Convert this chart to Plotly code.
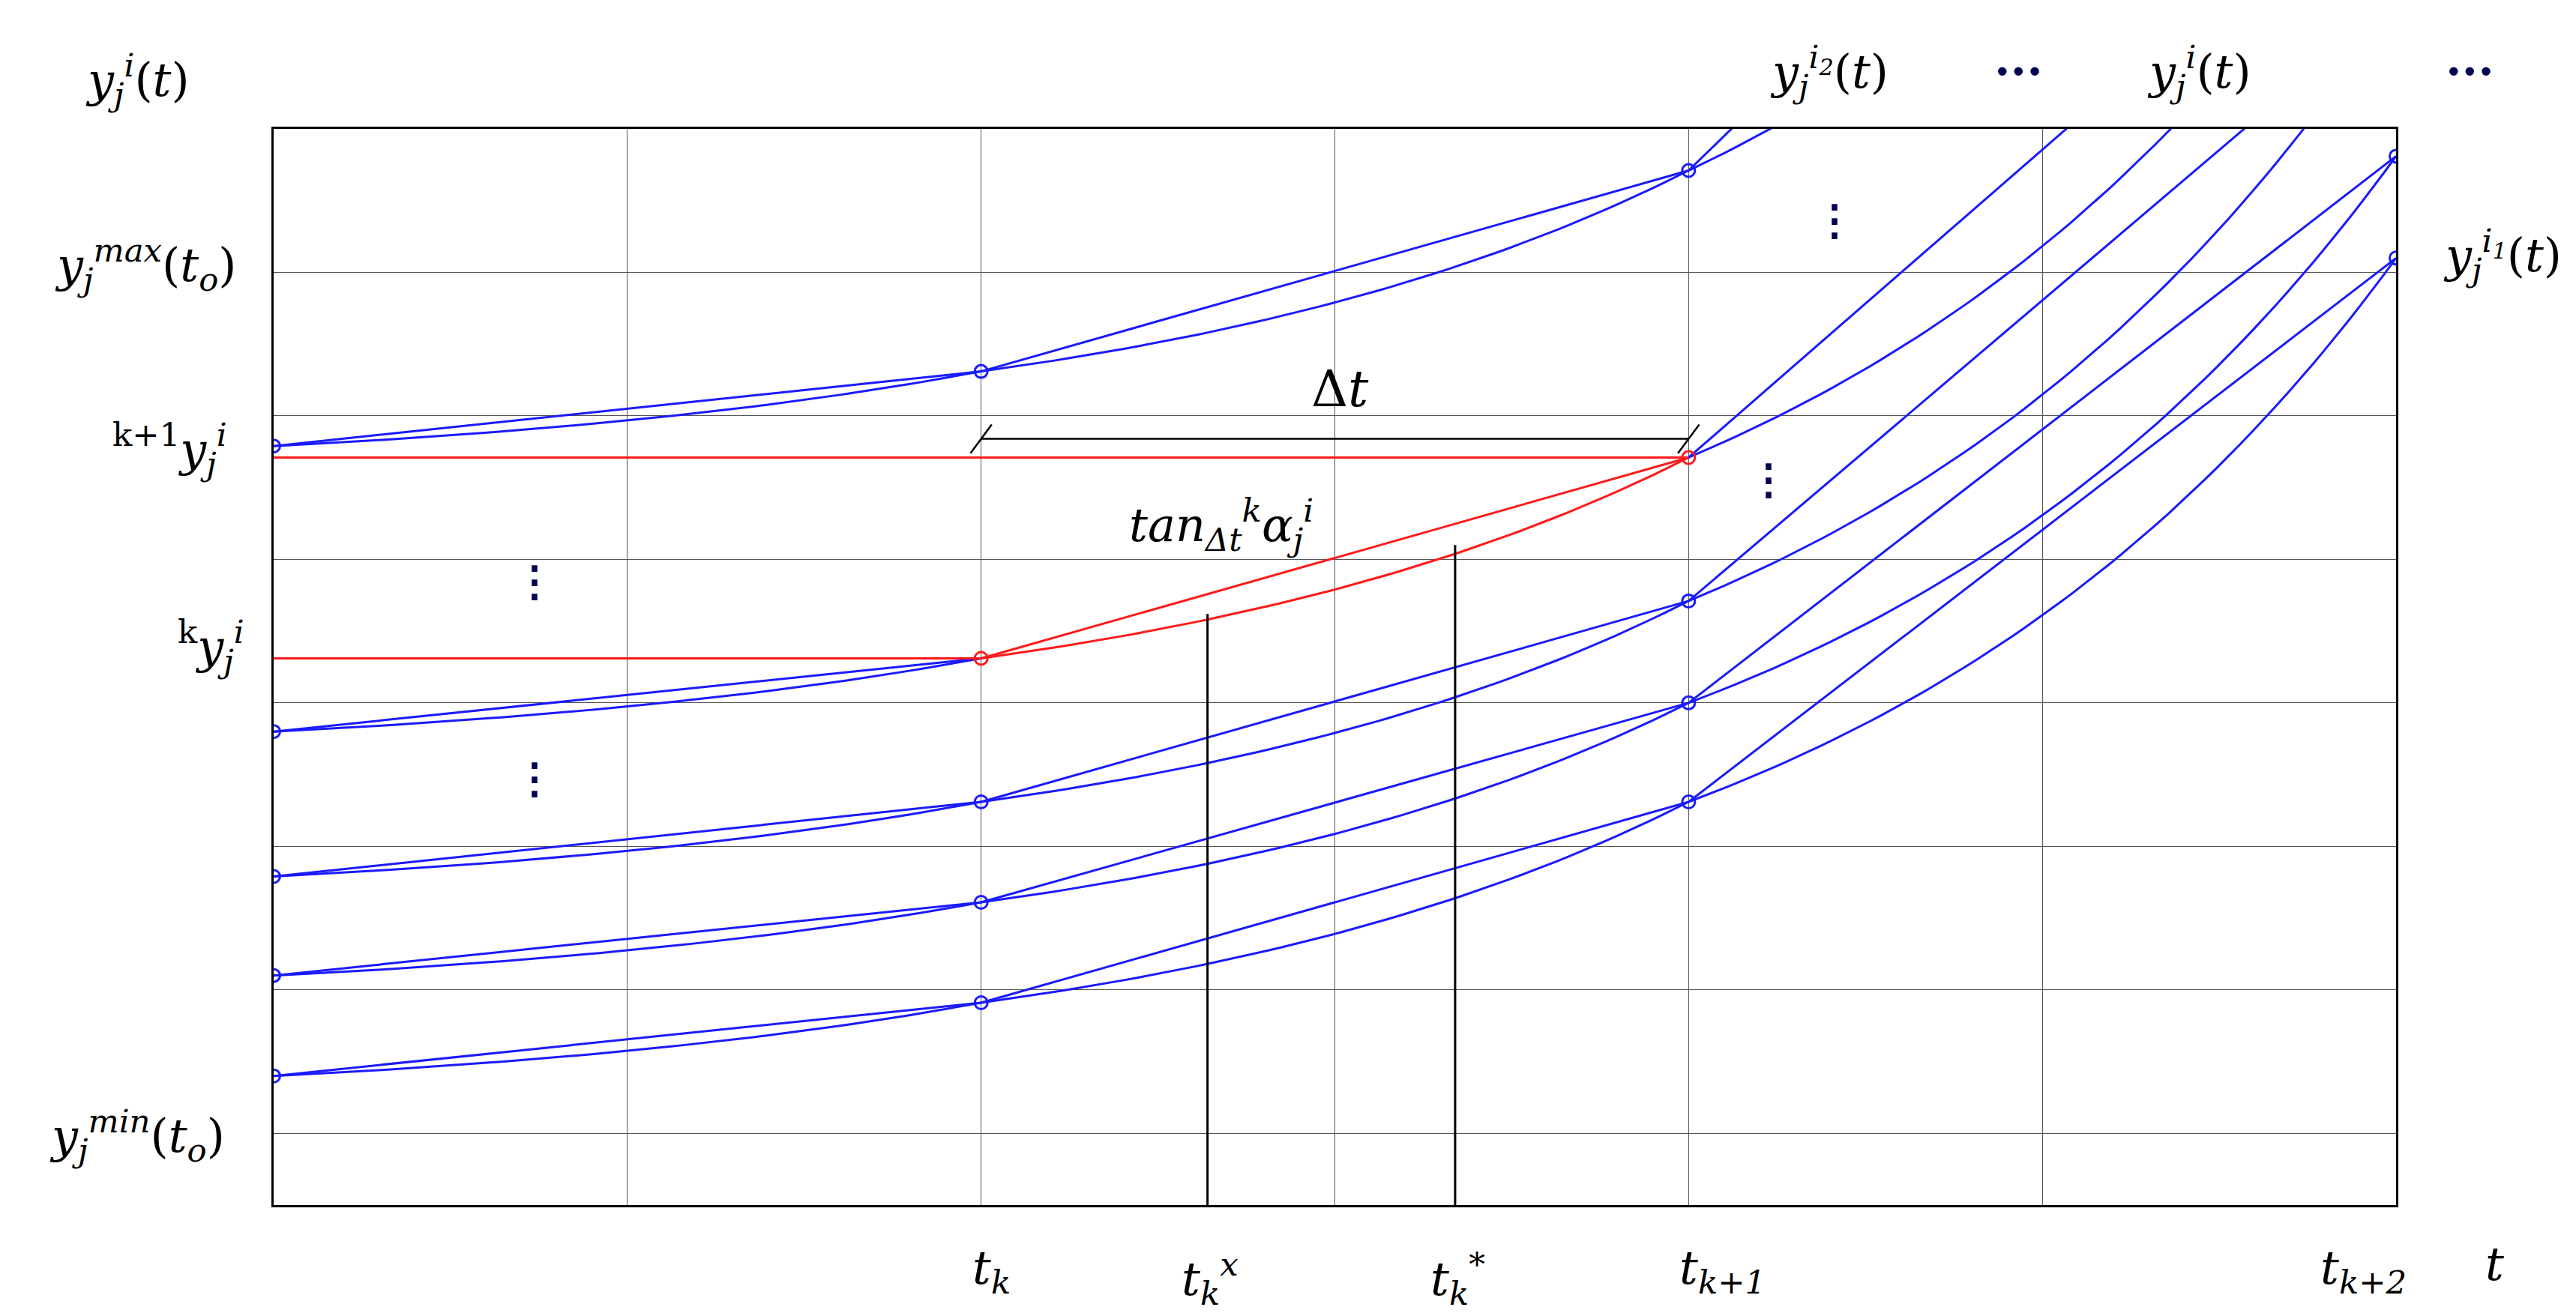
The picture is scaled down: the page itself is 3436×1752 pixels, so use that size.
import numpy as np
import plotly.graph_objects as go

t_nodes = [0, 2, 4, 6]
# node values per trajectory at t=0,2,4,(6)
traj = [
    [1.4, 1.91, 3.31, 7.1],
    [2.1, 2.61, 4.0, 7.81],
    [2.79, 3.31, 4.71, 8.9],
    [3.8, 4.31, 5.71, 10.0],
    [5.79, 6.31, 7.71, 12.5],
]
red_idx = 3
tkx, tks = 2.64, 3.34
tkx_top, tks_top = 4.62, 5.1
hline_upper, hline_lower = 5.71, 4.31
dt_level = 5.84

PX0, PX1, PY0, PY1 = 163, 1455, 75, 730
def px(x): return (x - PX0) / (PX1 - PX0)
def py(y): return (PY1 - y) / (PY1 - PY0)

fig = go.Figure()
BLUE, RED = "#1a1aff", "#ff1a1a"
def curve(x0, y0, x1, y1, a=1.3):
    s = np.linspace(0, 1, 60)
    return x0 + (x1 - x0) * s, y0 + (y1 - y0) * (np.exp(a * s) - 1) / (np.exp(a) - 1)

for n, tr in enumerate(traj):
    for k in range(3):
        col = RED if (n == red_idx and k == 1) else BLUE
        x0, x1 = t_nodes[k], t_nodes[k + 1]
        y0, y1 = tr[k], tr[k + 1]
        fig.add_trace(go.Scatter(x=[x0, x1], y=[y0, y1], mode="lines", line=dict(color=col, width=3), showlegend=False))
        cx, cy = curve(x0, y0, x1, y1)
        fig.add_trace(go.Scatter(x=cx, y=cy, mode="lines", line=dict(color=col, width=3), showlegend=False))
    pts_x = t_nodes[:3] + ([6] if tr[3] < 8 else [])
    pts_y = tr[:3] + ([tr[3]] if tr[3] < 8 else [])
    cols = [RED if (n == red_idx and i in (1, 2)) else BLUE for i in range(len(pts_x))]
    fig.add_trace(go.Scatter(x=pts_x, y=pts_y, mode="markers", marker=dict(symbol="circle-open", size=17, color=cols, line=dict(width=3)), showlegend=False))

# red horizontal lines
fig.add_trace(go.Scatter(x=[0, 4], y=[hline_upper]*2, mode="lines", line=dict(color=RED, width=3), showlegend=False))
fig.add_trace(go.Scatter(x=[0, 2], y=[hline_lower]*2, mode="lines", line=dict(color=RED, width=3), showlegend=False))
# black lines
fig.add_trace(go.Scatter(x=[2, 4], y=[dt_level]*2, mode="lines", line=dict(color="black", width=2.5), showlegend=False))
fig.add_trace(go.Scatter(x=[tkx, tkx], y=[0.5, tkx_top], mode="lines", line=dict(color="black", width=3), showlegend=False))
fig.add_trace(go.Scatter(x=[tks, tks], y=[0.5, tks_top], mode="lines", line=dict(color="black", width=3), showlegend=False))
for xx in [2, 4]:
    fig.add_trace(go.Scatter(x=[xx-0.03, xx+0.03], y=[dt_level-0.1, dt_level+0.1], mode="lines", line=dict(color="black", width=2.5), showlegend=False))

F = "DejaVu Serif"
def ann(text, x, y, size=62, color="black"):
    fig.add_annotation(text=text, x=px(x), y=py(y), xref="paper", yref="paper", showarrow=False,
                       font=dict(family=F, size=size, color=color), xanchor="center", yanchor="middle")
ann("<i>y<sub>j</sub><sup>i</sup></i>(<i>t</i>)", 80, 45)
ann("<i>y<sub>j</sub><sup>max</sup></i>(<i>t<sub>o</sub></i>)", 85, 158)
ann("<sup>k+1</sup><i>y<sub>j</sub><sup>i</sup></i>", 100, 270)
ann("<sup>k</sup><i>y<sub>j</sub><sup>i</sup></i>", 125, 390)
ann("<i>y<sub>j</sub><sup>min</sup></i>(<i>t<sub>o</sub></i>)", 80, 688)
ann("<i>t<sub>k</sub></i>", 600, 770)
ann("<i>t<sub>k</sub><sup>x</sup></i>", 733, 775)
ann("<i>t<sub>k</sub><sup>*</sup></i>", 884, 775)
ann("<i>t<sub>k+1</sub></i>", 1045, 770)
ann("<i>t<sub>k+2</sub></i>", 1435, 770)
ann("<i>t</i>", 1515, 766)
ann("<i>y<sub>j</sub><sup>i<sub>2</sub></sup></i>(<i>t</i>)", 1110, 40)
ann("<b>···</b>", 1225, 40, color="#000050")
ann("<i>y<sub>j</sub><sup>i</sup></i>(<i>t</i>)", 1335, 40)
ann("<b>···</b>", 1500, 40, color="#000050")
ann("<i>y<sub>j</sub><sup>i<sub>1</sub></sup></i>(<i>t</i>)", 1520, 152)
ann("Δ<i>t</i>", 812, 233, size=68)
ann("<i>tan<sub>Δt</sub><sup>k</sup>α<sub>j</sub><sup>i</sup></i>", 740, 316)
for (x, y) in [(322, 350), (322, 470), (1113, 130), (1073, 288)]:
    ann("<b>⋮</b>", x, y, size=56, color="#000050")

fig.update_xaxes(range=[0, 6], tickvals=[1, 2, 3, 4, 5], showticklabels=False, showgrid=True, gridcolor="#555",
                 gridwidth=1, zeroline=False, showline=True, linecolor="black", linewidth=2.5, mirror=True)
fig.update_yaxes(range=[0.5, 8], tickvals=[1, 2, 3, 4, 5, 6, 7], showticklabels=False, showgrid=True, gridcolor="#555",
                 gridwidth=1, zeroline=False, showline=True, linecolor="black", linewidth=2.5, mirror=True)
fig.update_layout(width=3436, height=1752, plot_bgcolor="white", paper_bgcolor="white",
                  margin=dict(l=357, r=248, t=164, b=152), showlegend=False)
fig.write_html("out.html")
